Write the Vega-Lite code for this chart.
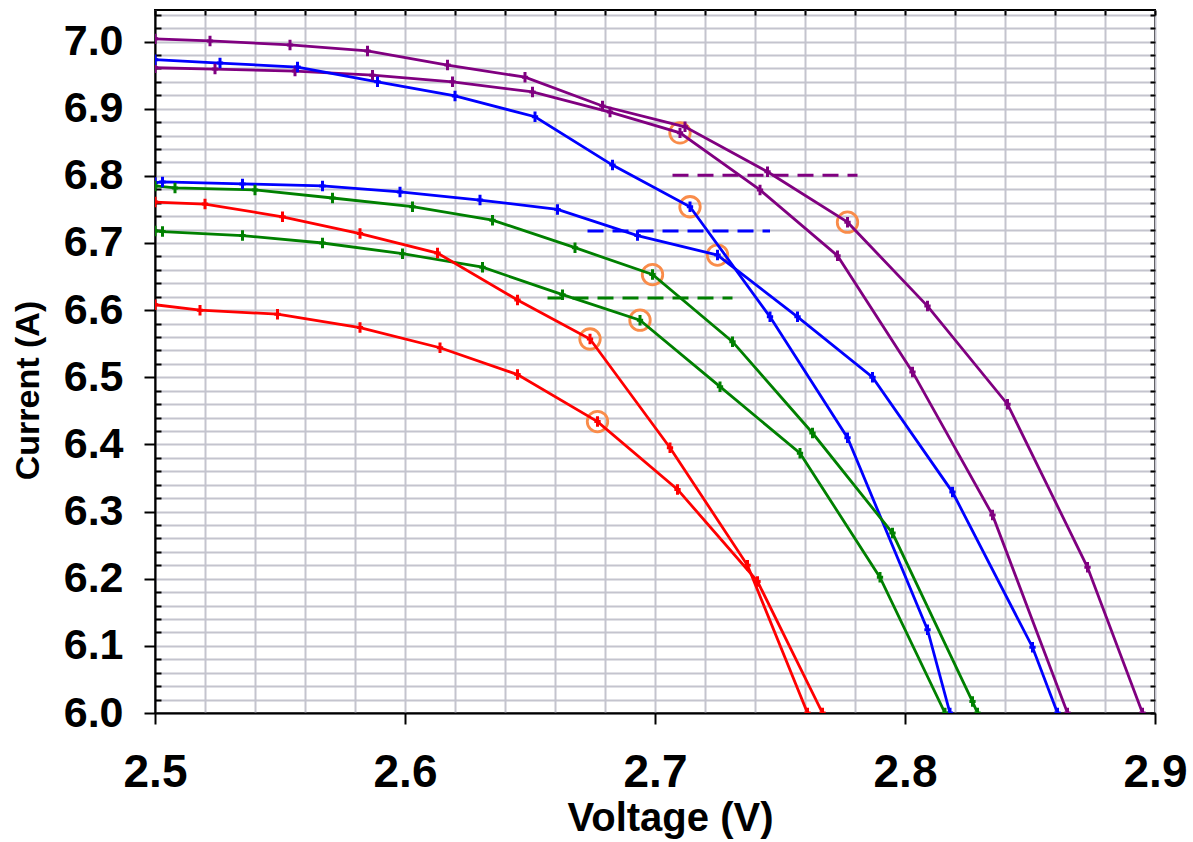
{
  "$schema": "https://vega.github.io/schema/vega-lite/v6.json",
  "width": 1000,
  "height": 703,
  "autosize": {"type": "none"},
  "padding": {"left": 155, "top": 10, "right": 38, "bottom": 129},
  "background": "white",
  "config": {"view": {"stroke": "black", "strokeWidth": 2}, "font": "Liberation Sans"},
  "datasets": {
    "curves": [
      {"curve": "A1", "group": "A", "v": 2.500, "i": 7.004},
      {"curve": "A1", "group": "A", "v": 2.522, "i": 7.001},
      {"curve": "A1", "group": "A", "v": 2.554, "i": 6.995},
      {"curve": "A1", "group": "A", "v": 2.585, "i": 6.986},
      {"curve": "A1", "group": "A", "v": 2.617, "i": 6.965},
      {"curve": "A1", "group": "A", "v": 2.648, "i": 6.947},
      {"curve": "A1", "group": "A", "v": 2.679, "i": 6.904},
      {"curve": "A1", "group": "A", "v": 2.712, "i": 6.873},
      {"curve": "A1", "group": "A", "v": 2.745, "i": 6.806},
      {"curve": "A1", "group": "A", "v": 2.777, "i": 6.731},
      {"curve": "A1", "group": "A", "v": 2.809, "i": 6.606},
      {"curve": "A1", "group": "A", "v": 2.841, "i": 6.460},
      {"curve": "A1", "group": "A", "v": 2.873, "i": 6.217},
      {"curve": "A1", "group": "A", "v": 2.895, "i": 6.000},
      {"curve": "A2", "group": "A", "v": 2.500, "i": 6.961},
      {"curve": "A2", "group": "A", "v": 2.524, "i": 6.959},
      {"curve": "A2", "group": "A", "v": 2.556, "i": 6.956},
      {"curve": "A2", "group": "A", "v": 2.587, "i": 6.950},
      {"curve": "A2", "group": "A", "v": 2.619, "i": 6.940},
      {"curve": "A2", "group": "A", "v": 2.651, "i": 6.925},
      {"curve": "A2", "group": "A", "v": 2.682, "i": 6.895},
      {"curve": "A2", "group": "A", "v": 2.710, "i": 6.864},
      {"curve": "A2", "group": "A", "v": 2.742, "i": 6.779},
      {"curve": "A2", "group": "A", "v": 2.773, "i": 6.681},
      {"curve": "A2", "group": "A", "v": 2.803, "i": 6.508},
      {"curve": "A2", "group": "A", "v": 2.835, "i": 6.295},
      {"curve": "A2", "group": "A", "v": 2.865, "i": 6.000},
      {"curve": "B1", "group": "B", "v": 2.500, "i": 6.973},
      {"curve": "B1", "group": "B", "v": 2.526, "i": 6.968},
      {"curve": "B1", "group": "B", "v": 2.557, "i": 6.962},
      {"curve": "B1", "group": "B", "v": 2.589, "i": 6.940},
      {"curve": "B1", "group": "B", "v": 2.620, "i": 6.919},
      {"curve": "B1", "group": "B", "v": 2.652, "i": 6.888},
      {"curve": "B1", "group": "B", "v": 2.683, "i": 6.816},
      {"curve": "B1", "group": "B", "v": 2.714, "i": 6.754},
      {"curve": "B1", "group": "B", "v": 2.746, "i": 6.590},
      {"curve": "B1", "group": "B", "v": 2.777, "i": 6.410},
      {"curve": "B1", "group": "B", "v": 2.809, "i": 6.124},
      {"curve": "B1", "group": "B", "v": 2.818, "i": 6.000},
      {"curve": "B2", "group": "B", "v": 2.500, "i": 6.790},
      {"curve": "B2", "group": "B", "v": 2.503, "i": 6.791},
      {"curve": "B2", "group": "B", "v": 2.535, "i": 6.788},
      {"curve": "B2", "group": "B", "v": 2.567, "i": 6.785},
      {"curve": "B2", "group": "B", "v": 2.598, "i": 6.776},
      {"curve": "B2", "group": "B", "v": 2.630, "i": 6.764},
      {"curve": "B2", "group": "B", "v": 2.661, "i": 6.750},
      {"curve": "B2", "group": "B", "v": 2.693, "i": 6.711},
      {"curve": "B2", "group": "B", "v": 2.725, "i": 6.682},
      {"curve": "B2", "group": "B", "v": 2.757, "i": 6.590},
      {"curve": "B2", "group": "B", "v": 2.787, "i": 6.500},
      {"curve": "B2", "group": "B", "v": 2.819, "i": 6.329},
      {"curve": "B2", "group": "B", "v": 2.851, "i": 6.098},
      {"curve": "B2", "group": "B", "v": 2.861, "i": 6.000},
      {"curve": "C1", "group": "C", "v": 2.500, "i": 6.785},
      {"curve": "C1", "group": "C", "v": 2.508, "i": 6.782},
      {"curve": "C1", "group": "C", "v": 2.540, "i": 6.779},
      {"curve": "C1", "group": "C", "v": 2.571, "i": 6.767},
      {"curve": "C1", "group": "C", "v": 2.603, "i": 6.754},
      {"curve": "C1", "group": "C", "v": 2.635, "i": 6.734},
      {"curve": "C1", "group": "C", "v": 2.668, "i": 6.693},
      {"curve": "C1", "group": "C", "v": 2.699, "i": 6.653},
      {"curve": "C1", "group": "C", "v": 2.731, "i": 6.553},
      {"curve": "C1", "group": "C", "v": 2.763, "i": 6.417},
      {"curve": "C1", "group": "C", "v": 2.795, "i": 6.268},
      {"curve": "C1", "group": "C", "v": 2.827, "i": 6.017},
      {"curve": "C1", "group": "C", "v": 2.829, "i": 6.000},
      {"curve": "C2", "group": "C", "v": 2.500, "i": 6.718},
      {"curve": "C2", "group": "C", "v": 2.503, "i": 6.717},
      {"curve": "C2", "group": "C", "v": 2.535, "i": 6.711},
      {"curve": "C2", "group": "C", "v": 2.567, "i": 6.700},
      {"curve": "C2", "group": "C", "v": 2.599, "i": 6.684},
      {"curve": "C2", "group": "C", "v": 2.631, "i": 6.664},
      {"curve": "C2", "group": "C", "v": 2.663, "i": 6.623},
      {"curve": "C2", "group": "C", "v": 2.694, "i": 6.585},
      {"curve": "C2", "group": "C", "v": 2.726, "i": 6.486},
      {"curve": "C2", "group": "C", "v": 2.758, "i": 6.387},
      {"curve": "C2", "group": "C", "v": 2.790, "i": 6.202},
      {"curve": "C2", "group": "C", "v": 2.816, "i": 6.000},
      {"curve": "D1", "group": "D", "v": 2.500, "i": 6.761},
      {"curve": "D1", "group": "D", "v": 2.520, "i": 6.758},
      {"curve": "D1", "group": "D", "v": 2.551, "i": 6.739},
      {"curve": "D1", "group": "D", "v": 2.582, "i": 6.714},
      {"curve": "D1", "group": "D", "v": 2.613, "i": 6.685},
      {"curve": "D1", "group": "D", "v": 2.645, "i": 6.615},
      {"curve": "D1", "group": "D", "v": 2.674, "i": 6.557},
      {"curve": "D1", "group": "D", "v": 2.706, "i": 6.395},
      {"curve": "D1", "group": "D", "v": 2.737, "i": 6.220},
      {"curve": "D1", "group": "D", "v": 2.761, "i": 6.000},
      {"curve": "D2", "group": "D", "v": 2.500, "i": 6.608},
      {"curve": "D2", "group": "D", "v": 2.518, "i": 6.600},
      {"curve": "D2", "group": "D", "v": 2.549, "i": 6.594},
      {"curve": "D2", "group": "D", "v": 2.582, "i": 6.574},
      {"curve": "D2", "group": "D", "v": 2.614, "i": 6.544},
      {"curve": "D2", "group": "D", "v": 2.645, "i": 6.504},
      {"curve": "D2", "group": "D", "v": 2.677, "i": 6.434},
      {"curve": "D2", "group": "D", "v": 2.709, "i": 6.333},
      {"curve": "D2", "group": "D", "v": 2.741, "i": 6.196},
      {"curve": "D2", "group": "D", "v": 2.767, "i": 6.000}
    ],
    "refs": [
      {"group": "A", "v": 2.707, "i": 6.801},
      {"group": "A", "v": 2.781, "i": 6.801},
      {"group": "B", "v": 2.673, "i": 6.718},
      {"group": "B", "v": 2.746, "i": 6.718},
      {"group": "C", "v": 2.657, "i": 6.618},
      {"group": "C", "v": 2.731, "i": 6.618}
    ],
    "mpp": [
      {"v": 2.710, "i": 6.864},
      {"v": 2.777, "i": 6.731},
      {"v": 2.714, "i": 6.754},
      {"v": 2.725, "i": 6.682},
      {"v": 2.699, "i": 6.653},
      {"v": 2.694, "i": 6.585},
      {"v": 2.674, "i": 6.557},
      {"v": 2.677, "i": 6.434}
    ]
  },
  "layer": [
    {
      "data": {"name": "mpp"},
      "mark": {"type": "point", "shape": "circle", "filled": false, "stroke": "#F98C4A", "strokeWidth": 2.8, "size": 420, "opacity": 1},
      "encoding": {
        "x": {"field": "v", "type": "quantitative", "scale": {"domain": [2.5, 2.9], "nice": false, "zero": false},
          "axis": {"orient": "top", "values": [2.5,2.52,2.54,2.56,2.58,2.6,2.62,2.64,2.66,2.68,2.7,2.72,2.74,2.76,2.78,2.8,2.82,2.84,2.86,2.88,2.9],
            "grid": true, "gridColor": "#C4C4CE", "gridWidth": 2, "gridOpacity": 1, "labels": false, "domain": false,
            "ticks": true, "tickSize": -5, "tickColor": "black", "tickWidth": 2, "title": null}},
        "y": {"field": "i", "type": "quantitative", "scale": {"domain": [6.0, 7.047], "nice": false, "zero": false},
          "axis": {"orient": "right", "values": [6,6.02,6.04,6.06,6.08,6.1,6.12,6.14,6.16,6.18,6.2,6.22,6.24,6.26,6.28,6.3,6.32,6.34,6.36,6.38,6.4,6.42,6.44,6.46,6.48,6.5,6.52,6.54,6.56,6.58,6.6,6.62,6.64,6.66,6.68,6.7,6.72,6.74,6.76,6.78,6.8,6.82,6.84,6.86,6.88,6.9,6.92,6.94,6.96,6.98,7,7.02,7.04],
            "grid": true, "gridColor": "#C4C4CE", "gridWidth": 2, "gridOpacity": 1, "labels": false, "domain": false,
            "ticks": true, "tickSize": -5, "tickColor": "black", "tickWidth": 2, "title": null}}
      }
    },
    {
      "data": {"name": "curves"},
      "mark": {"type": "line", "strokeWidth": 2.8, "clip": true},
      "encoding": {
        "x": {"field": "v", "type": "quantitative",
          "axis": {"orient": "bottom", "values": [2.5, 2.6, 2.7, 2.8, 2.9], "format": ".1f", "grid": false,
            "tickSize": 11, "tickWidth": 2, "tickColor": "black", "domainColor": "black", "domainWidth": 2,
            "labelFont": "Liberation Sans", "labelFontSize": 46, "labelFontWeight": "bold", "labelColor": "black",
            "labelPadding": 26, "labelFlush": false, "labelOverlap": false,
            "title": "Voltage (V)", "titleFont": "Liberation Sans", "titleFontSize": 40, "titleFontWeight": "bold",
            "titleColor": "black", "titleX": 515, "titleY": 117, "titleAlign": "center", "titleBaseline": "alphabetic"}},
        "y": {"field": "i", "type": "quantitative",
          "axis": {"orient": "left", "values": [6.0, 6.1, 6.2, 6.3, 6.4, 6.5, 6.6, 6.7, 6.8, 6.9, 7.0], "format": ".1f", "grid": false,
            "tickSize": 11, "tickWidth": 2, "tickColor": "black", "domainColor": "black", "domainWidth": 2,
            "labelFont": "Liberation Sans", "labelFontSize": 43, "labelFontWeight": "bold", "labelColor": "black",
            "labelPadding": 21, "labelFlush": false, "labelOverlap": false,
            "title": "Current (A)", "titleFont": "Liberation Sans", "titleFontSize": 34, "titleFontWeight": "bold",
            "titleColor": "black", "titleAngle": -90, "titleX": -117, "titleY": 380, "titleAlign": "center", "titleBaseline": "alphabetic"}},
        "color": {"field": "group", "type": "nominal",
          "scale": {"domain": ["A", "B", "C", "D"], "range": ["#800080", "#0000FF", "#008000", "#FF0000"]}, "legend": null},
        "detail": {"field": "curve"}
      }
    },
    {
      "data": {"name": "curves"},
      "mark": {"type": "point", "shape": "M0,-1L0,1M-0.6,0L0.6,0", "filled": false, "strokeWidth": 3, "size": 110, "opacity": 1, "clip": true},
      "encoding": {
        "x": {"field": "v", "type": "quantitative", "axis": null},
        "y": {"field": "i", "type": "quantitative",
          "axis": {"orient": "left", "values": [6.02,6.04,6.06,6.08,6.12,6.14,6.16,6.18,6.22,6.24,6.26,6.28,6.32,6.34,6.36,6.38,6.42,6.44,6.46,6.48,6.52,6.54,6.56,6.58,6.62,6.64,6.66,6.68,6.72,6.74,6.76,6.78,6.82,6.84,6.86,6.88,6.92,6.94,6.96,6.98,7.02,7.04],
            "grid": false, "labels": false, "domain": false, "ticks": true, "tickSize": -6, "tickColor": "black", "tickWidth": 2, "title": null}},
        "color": {"field": "group", "type": "nominal", "legend": null},
        "detail": {"field": "curve"}
      }
    },
    {
      "data": {"name": "refs"},
      "mark": {"type": "line", "strokeWidth": 3, "strokeDash": [16, 9]},
      "encoding": {
        "x": {"field": "v", "type": "quantitative", "axis": null},
        "y": {"field": "i", "type": "quantitative", "axis": null},
        "color": {"field": "group", "type": "nominal", "legend": null},
        "detail": {"field": "group"}
      }
    }
  ],
  "resolve": {"axis": {"x": "independent", "y": "independent"}}
}
